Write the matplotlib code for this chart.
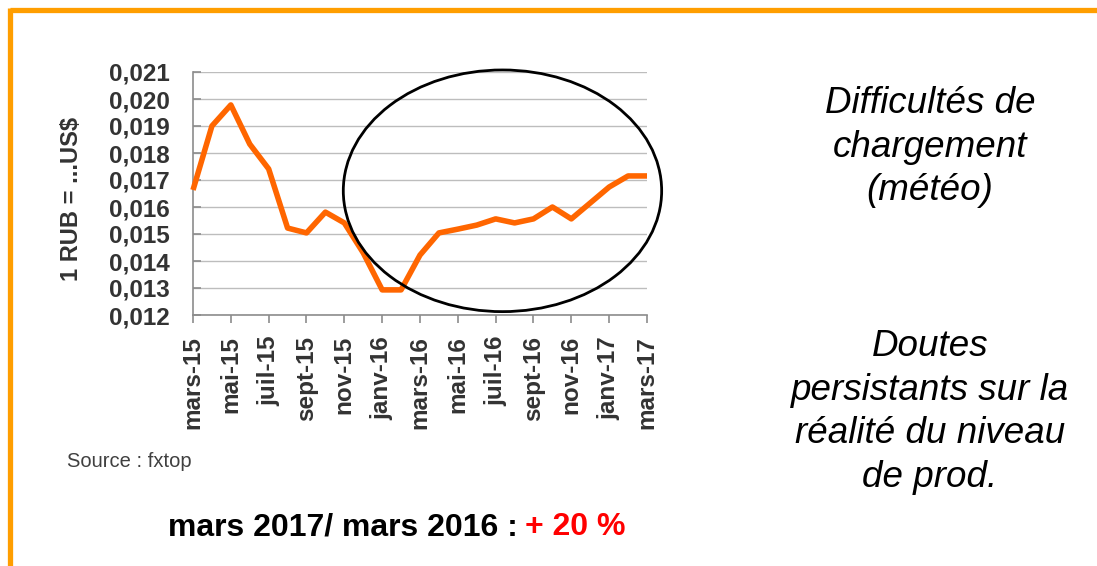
import matplotlib
matplotlib.use("Agg")
import matplotlib.pyplot as plt
from matplotlib.patches import Ellipse
from matplotlib.lines import Line2D

plt.rcParams['font.family'] = ['Liberation Sans', 'DejaVu Sans']

# ---- data ----
months = ['mars-15', 'avr-15', 'mai-15', 'juin-15', 'juil-15', 'août-15', 'sept-15',
          'oct-15', 'nov-15', 'déc-15', 'janv-16', 'févr-16', 'mars-16', 'avr-16',
          'mai-16', 'juin-16', 'juil-16', 'août-16', 'sept-16', 'oct-16', 'nov-16',
          'déc-16', 'janv-17', 'févr-17', 'mars-17']
rub_usd = [0.01663, 0.01900, 0.01978, 0.01833, 0.01741, 0.01522, 0.01504,
           0.01581, 0.01541, 0.01430, 0.01293, 0.01293, 0.01422, 0.01504,
           0.01518, 0.01533, 0.01556, 0.01541, 0.01556, 0.01600, 0.01556,
           0.01615, 0.01674, 0.01715, 0.01715]
tick_labels = ['mars-15', 'mai-15', 'juil-15', 'sept-15', 'nov-15', 'janv-16',
               'mars-16', 'mai-16', 'juil-16', 'sept-16', 'nov-16', 'janv-17', 'mars-17']
y_ticks = [0.012, 0.013, 0.014, 0.015, 0.016, 0.017, 0.018, 0.019, 0.020, 0.021]

W, H = 1097, 566
fig = plt.figure(figsize=(W / 100, H / 100), dpi=100)
fig.patch.set_facecolor('white')

ax = fig.add_axes([193 / W, 1 - 315 / H, (647 - 193) / W, (315 - 72) / H])
x = list(range(len(months)))
ax.plot(x, rub_usd, color='#FF6600', lw=4.0, solid_joinstyle='round',
        solid_capstyle='butt', zorder=3, clip_on=False)

ax.set_xlim(0, len(months) - 1)
ax.set_ylim(0.012, 0.021)
ax.set_yticks(y_ticks)
ax.set_yticklabels([f"{v:.3f}".replace('.', ',') for v in y_ticks])
ax.set_xticks([months.index(m) for m in tick_labels])
ax.set_xticklabels(tick_labels, rotation=90)

ax.grid(axis='y', color='#BDBDBD', lw=1.0, zorder=0)
ax.set_axisbelow(True)
for s in ['top', 'right']:
    ax.spines[s].set_visible(False)
for s in ['left', 'bottom']:
    ax.spines[s].set_color('#8C8C8C')
    ax.spines[s].set_linewidth(1.2)

ax.tick_params(axis='y', direction='in', length=6, width=1.2, color='#8C8C8C',
               pad=17, labelsize=17.5, labelcolor='#333333')
ax.tick_params(axis='x', direction='out', length=6, width=1.2, color='#8C8C8C',
               pad=9, labelsize=17.5, labelcolor='#333333')
for lbl in ax.get_xticklabels() + ax.get_yticklabels():
    lbl.set_fontweight('bold')

# ellipse annotation
ell = Ellipse((16.36, 0.0166), width=16.83, height=0.00895, fill=False,
              edgecolor='black', lw=2.0, clip_on=False, zorder=4)
ax.add_patch(ell)

# y label
fig.text(72 / W, 1 - 199 / H, '1 RUB = ...US$', rotation=90, ha='center',
         va='center', fontsize=17, fontweight='bold', color='#333333')

# source
fig.text(67 / W, 1 - 467 / H, 'Source : fxtop', ha='left', va='baseline',
         fontsize=14.5, color='#404040')

# bottom comparison text
t1 = fig.text(168 / W, 1 - 535 / H, 'mars 2017/ mars 2016 :', ha='left',
              va='baseline', fontsize=23, fontweight='bold', color='black')
fig.canvas.draw()
bb = t1.get_window_extent(renderer=fig.canvas.get_renderer())
fig.text((bb.x1 + 7) / W, 1 - 535 / H, '+ 20 %', ha='left', va='baseline',
         fontsize=23, fontweight='bold', color='#FF0000')

# right-hand comments
fig.text(930 / W, 1 - 147 / H, 'Difficultés de\nchargement\n(météo)', ha='center',
         va='center', fontsize=26.5, style='italic', color='black', linespacing=1.33)
fig.text(930 / W, 1 - 412 / H, 'Doutes\npersistants sur la\nréalité du niveau\nde prod.',
         ha='center', va='center', fontsize=26.5, style='italic', color='black',
         linespacing=1.33)

# orange frame (top and left)
orange = '#FF9E00'
fig.add_artist(Line2D([10 / W, 1.0], [1 - 10 / H, 1 - 10 / H], color=orange, lw=3.8,
                      solid_capstyle='butt', transform=fig.transFigure))
fig.add_artist(Line2D([10 / W, 10 / W], [0.0, 1 - 8 / H], color=orange, lw=3.8,
                      solid_capstyle='butt', transform=fig.transFigure))

fig.savefig('out.png', dpi=100, facecolor='white')
